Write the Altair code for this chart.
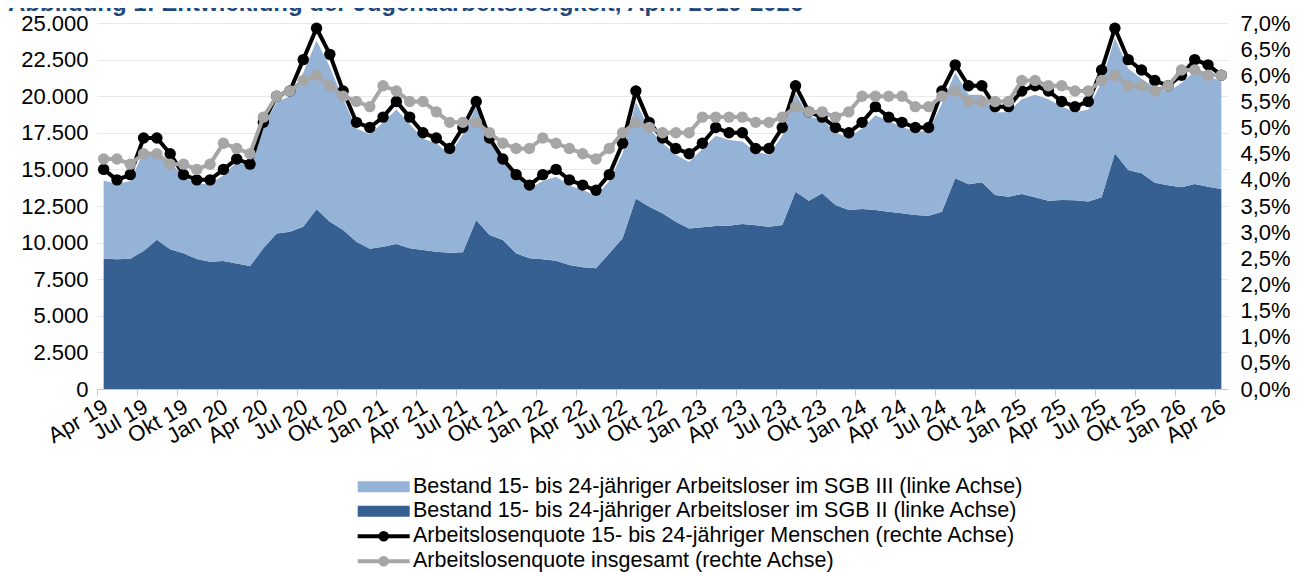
import altair as alt
import pandas as pd

# ---------------- data ----------------
tick_labels = ["Apr 19", "Jul 19", "Okt 19", "Jan 20", "Apr 20", "Jul 20", "Okt 20",
               "Jan 21", "Apr 21", "Jul 21", "Okt 21", "Jan 22", "Apr 22", "Jul 22",
               "Okt 22", "Jan 23", "Apr 23", "Jul 23", "Okt 23", "Jan 24", "Apr 24",
               "Jul 24", "Okt 24", "Jan 25", "Apr 25", "Jul 25", "Okt 25", "Jan 26",
               "Apr 26"]

sgb2 = [8900, 8860, 8900, 9430, 10200, 9540, 9270, 8880, 8700, 8740,
        8580, 8400, 9610, 10630, 10740, 11090, 12270, 11430, 10860, 10060,
        9580, 9720, 9900, 9610, 9490, 9380, 9310, 9340, 11540, 10520,
        10180, 9270, 8930, 8860, 8760, 8470, 8310, 8240, 9270, 10290,
        13020, 12450, 12000, 11430, 10970, 11040, 11130, 11150, 11270, 11180,
        11090, 11200, 13480, 12860, 13370, 12570, 12230, 12290, 12230, 12110,
        12000, 11880, 11840, 12110, 14390, 13980, 14120, 13250, 13130, 13320,
        13090, 12860, 12910, 12890, 12800, 13090, 16100, 14960, 14730, 14090,
        13910, 13780, 14000, 13820, 13660]

sgb3 = [5350, 5140, 5300, 6770, 6000, 5960, 5230, 5120, 5300, 5860,
        6920, 6800, 8290, 8970, 9260, 10510, 11530, 10570, 8940, 7740,
        7820, 8480, 9200, 8490, 7610, 7420, 6690, 8060, 7760, 6480,
        5320, 5230, 4770, 5340, 5740, 5430, 5290, 4960, 4930, 5810,
        6580, 5350, 4800, 4570, 4530, 5360, 6170, 5850, 5630, 5020,
        4910, 6100, 6720, 5740, 5030, 4930, 4970, 5510, 6470, 6190,
        5900, 5720, 5760, 7390, 7210, 6120, 5980, 5650, 5770, 6480,
        7010, 6940, 6390, 6010, 6300, 7910, 7900, 6940, 6470, 6510,
        6390, 7120, 7700, 7580, 7340]

quote_jugend = [4.2, 4.0, 4.1, 4.8, 4.8, 4.5, 4.1, 4.0, 4.0, 4.2,
                4.4, 4.3, 5.1, 5.6, 5.7, 6.3, 6.9, 6.4, 5.7, 5.1,
                5.0, 5.2, 5.5, 5.2, 4.9, 4.8, 4.6, 5.0, 5.5, 4.8,
                4.4, 4.1, 3.9, 4.1, 4.2, 4.0, 3.9, 3.8, 4.1, 4.7,
                5.7, 5.1, 4.8, 4.6, 4.5, 4.7, 5.0, 4.9, 4.9, 4.6,
                4.6, 5.0, 5.8, 5.3, 5.2, 5.0, 4.9, 5.1, 5.4, 5.2,
                5.1, 5.0, 5.0, 5.7, 6.2, 5.8, 5.8, 5.4, 5.4, 5.7,
                5.8, 5.7, 5.5, 5.4, 5.5, 6.1, 6.9, 6.3, 6.1, 5.9,
                5.8, 6.0, 6.3, 6.2, 6.0]

quote_gesamt = [4.4, 4.4, 4.3, 4.5, 4.5, 4.3, 4.3, 4.2, 4.3, 4.7,
                4.6, 4.5, 5.2, 5.6, 5.7, 5.9, 6.0, 5.8, 5.6, 5.5,
                5.4, 5.8, 5.7, 5.5, 5.5, 5.3, 5.1, 5.1, 5.1, 4.9,
                4.7, 4.6, 4.6, 4.8, 4.7, 4.6, 4.5, 4.4, 4.6, 4.9,
                5.1, 5.0, 4.9, 4.9, 4.9, 5.2, 5.2, 5.2, 5.2, 5.1,
                5.1, 5.2, 5.4, 5.3, 5.3, 5.2, 5.3, 5.6, 5.6, 5.6,
                5.6, 5.4, 5.4, 5.6, 5.7, 5.5, 5.5, 5.5, 5.5, 5.9,
                5.9, 5.8, 5.8, 5.7, 5.7, 5.9, 6.0, 5.8, 5.8, 5.7,
                5.8, 6.1, 6.1, 6.0, 6.0]

legend_labels = [
    "Bestand 15- bis 24-jähriger Arbeitsloser im SGB III (linke Achse)",
    "Bestand 15- bis 24-jähriger Arbeitsloser im SGB II (linke Achse)",
    "Arbeitslosenquote 15- bis 24-jähriger Menschen (rechte Achse)",
    "Arbeitslosenquote insgesamt (rechte Achse)",
]
title_text = "Abbildung 1: Entwicklung der Jugendarbeitslosigkeit, April 2019-2026"

# ---------------- chart ----------------
n = len(sgb2)
df = pd.DataFrame({"i": list(range(n)), "sgb2": sgb2, "sgb3": sgb3,
                   "qj": quote_jugend, "qg": quote_gesamt})

W, H = 1131, 366
FONT = "Liberation Sans"
FS_AX = 22
FS_LEG = 21.5
C_DARK = "#366092"
C_LIGHT = "#95B3D7"
C_GRAY = "#A6A6A6"
HALF = W / n / 2

lab_js = "[" + ",".join("'%s'" % s for s in tick_labels) + "]"

x_axis = alt.Axis(values=list(range(0, n, 3)),
                  labelExpr=lab_js + "[round(datum.value / 3)]",
                  tickOffset=-HALF, labelOffset=HALF - 3,
                  labelAngle=-30, labelAlign="right", labelBaseline="top",
                  labelPadding=0, tickSize=7, tickColor="#C8C8C8",
                  domainColor="#C8C8C8", grid=False, title=None,
                  labelOverlap=False, labelFlush=False,
                  labelFont=FONT, labelFontSize=FS_AX, labelColor="black")
x_enc = alt.X("i:Q", scale=alt.Scale(domain=[-0.5, n - 0.5], nice=False, zero=False),
              axis=x_axis)

left_scale = alt.Scale(domain=[0, 25000], nice=False)
left_axis = alt.Axis(orient="left", values=list(range(0, 25001, 2500)),
                     labelExpr="replace(format(datum.value, ','), ',', '.')",
                     grid=True, gridColor="#E8E8E8", gridWidth=1,
                     domain=False, ticks=False, tickSize=0, labelPadding=9,
                     labelOverlap=False, labelFlush=False,
                     title=None, labelFont=FONT, labelFontSize=FS_AX, labelColor="black")

base = alt.Chart(df)
dark = base.mark_area(color=C_DARK, opacity=1, interpolate="linear").encode(
    x=x_enc,
    y=alt.Y("sgb2:Q", scale=left_scale, axis=left_axis),
)
light = base.transform_calculate(total="datum.sgb2 + datum.sgb3").mark_area(
    color=C_LIGHT, opacity=1, interpolate="linear").encode(
    x=x_enc,
    y=alt.Y("total:Q", scale=left_scale, axis=left_axis),
    y2="sgb2:Q",
)
left = alt.layer(dark, light)

right_scale = alt.Scale(domain=[0, 7], nice=False)
right_axis = alt.Axis(orient="right", values=[k * 0.5 for k in range(15)],
                      labelExpr="replace(format(datum.value, '.1f'), '.', ',') + '%'",
                      grid=False, domain=False, ticks=False, tickSize=0, labelPadding=12,
                      labelOverlap=False, labelFlush=False,
                      title=None, labelFont=FONT, labelFontSize=FS_AX, labelColor="black",
                      labelAlign="left")

black_line = base.mark_line(color="black", strokeWidth=4).encode(
    x=x_enc, y=alt.Y("qj:Q", scale=right_scale, axis=right_axis))
black_pts = base.mark_circle(color="black", size=130, opacity=1).encode(
    x=x_enc, y=alt.Y("qj:Q", scale=right_scale, axis=right_axis))
gray_line = base.mark_line(color=C_GRAY, strokeWidth=4).encode(
    x=x_enc, y=alt.Y("qg:Q", scale=right_scale, axis=right_axis))
gray_pts = base.mark_circle(color=C_GRAY, size=130, opacity=1).encode(
    x=x_enc, y=alt.Y("qg:Q", scale=right_scale, axis=right_axis))
right = alt.layer(black_line, black_pts, gray_line, gray_pts)

# ---------------- legend + title (manual) ----------------
LX0, LX1 = 260.7, 312.7
LTX = 316
LY = [463.7, 488.3, 513.3, 538.3]
one = pd.DataFrame({"d": [0]})

layers = [left, right]
swatch_cols = [C_LIGHT, C_DARK]
for k in range(2):
    layers.append(alt.Chart(one).mark_rect(color=swatch_cols[k], opacity=1).encode(
        x=alt.value(LX0), x2=alt.value(LX1),
        y=alt.value(LY[k] - 5.5), y2=alt.value(LY[k] + 5.5)))
line_cols = ["black", C_GRAY]
for k in range(2):
    layers.append(alt.Chart(one).mark_rule(color=line_cols[k], strokeWidth=4).encode(
        x=alt.value(LX0), x2=alt.value(LX1), y=alt.value(LY[k + 2])))
    layers.append(alt.Chart(one).mark_circle(color=line_cols[k], size=110, opacity=1).encode(
        x=alt.value((LX0 + LX1) / 2), y=alt.value(LY[k + 2])))
for k in range(4):
    layers.append(alt.Chart(pd.DataFrame({"t": [legend_labels[k]]})).mark_text(
        align="left", baseline="middle", font=FONT, fontSize=FS_LEG, color="black").encode(
        text="t:N", x=alt.value(LTX), y=alt.value(LY[k])))
layers.append(alt.Chart(pd.DataFrame({"t": [title_text]})).mark_text(
    align="left", baseline="alphabetic", font=FONT, fontSize=24, fontWeight="bold",
    color="#1F497D").encode(text="t:N", x=alt.value(-89), y=alt.value(-12.5)))

chart = alt.layer(*layers).resolve_scale(y="independent").properties(
    width=W, height=H,
    padding={"left": 89, "top": 15, "right": 62, "bottom": 183},
    autosize=alt.AutoSizeParams(type="none"),
    background="white",
).configure_view(stroke=None)

chart.save("out.html", embed_options={"renderer": "svg", "actions": False})
